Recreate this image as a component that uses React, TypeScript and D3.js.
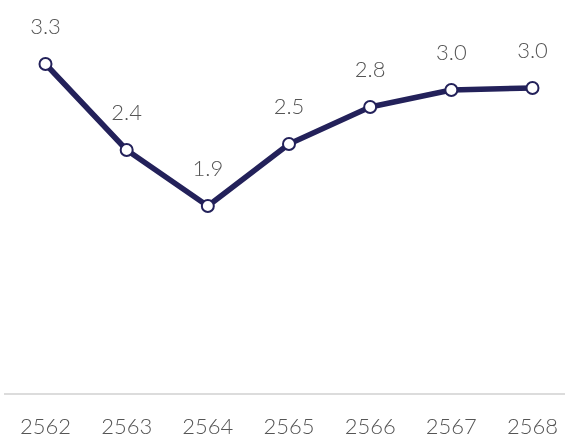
import React, { useEffect, useRef } from 'react';
import * as d3 from 'd3';

// years (Thai Buddhist era) and the values
const years = ['2562', '2563', '2564', '2565', '2566', '2567', '2568'];
const values = [3.3, 2.44, 1.88, 2.5, 2.87, 3.04, 3.06];
const valueLabels = ['3.3', '2.4', '1.9', '2.5', '2.8', '3.0', '3.0'];

const W = 565;
const H = 439;

const LineChart = () => {
  const node = useRef<SVGSVGElement>(null);

  useEffect(() => {
    const svg = d3.select(node.current);
    svg.selectAll('*').remove();

    const x = d3.scalePoint<string>().domain(years).range([45.5, 532.5]);
    const y = d3.scaleLinear().domain([0, 3.3]).range([394, 64]);
    const navy = '#23215a';
    const textColor = '#555';
    const font = 'Lato, "Noto Sans", sans-serif';

    // baseline
    svg.append('line')
      .attr('x1', 4).attr('x2', W)
      .attr('y1', 394).attr('y2', 394)
      .attr('stroke', '#dcdcdc')
      .attr('stroke-width', 2);

    // year labels
    svg.append('g')
      .selectAll('text')
      .data(years)
      .enter()
      .append('text')
      .attr('x', d => x(d)!)
      .attr('y', 434)
      .attr('text-anchor', 'middle')
      .style('font-family', font)
      .style('font-weight', 300)
      .style('font-size', '22px')
      .style('fill', textColor)
      .text(d => d);

    const line = d3.line<number>()
      .x((d, i) => x(years[i])!)
      .y(d => y(d));

    svg.append('path')
      .datum(values)
      .attr('d', line)
      .attr('fill', 'none')
      .attr('stroke', navy)
      .attr('stroke-width', 5.5)
      .attr('stroke-linejoin', 'round');

    svg.append('g')
      .selectAll('circle')
      .data(values)
      .enter()
      .append('circle')
      .attr('cx', (d, i) => x(years[i])!)
      .attr('cy', d => y(d))
      .attr('r', 6)
      .attr('fill', '#fff')
      .attr('stroke', navy)
      .attr('stroke-width', 2);

    // value labels above points
    svg.append('g')
      .selectAll('text')
      .data(values)
      .enter()
      .append('text')
      .attr('x', (d, i) => x(years[i])!)
      .attr('y', d => y(d) - 30)
      .attr('text-anchor', 'middle')
      .style('font-family', font)
      .style('font-weight', 300)
      .style('font-size', '22px')
      .style('fill', textColor)
      .text((d, i) => valueLabels[i]);
  }, []);

  return <svg ref={node} width={W} height={H} style={{ display: 'block' }} />;
};

export default function App() {
  return (
    <div style={{ position: 'fixed', left: 0, top: 0 }}>
      <LineChart />
    </div>
  );
}
